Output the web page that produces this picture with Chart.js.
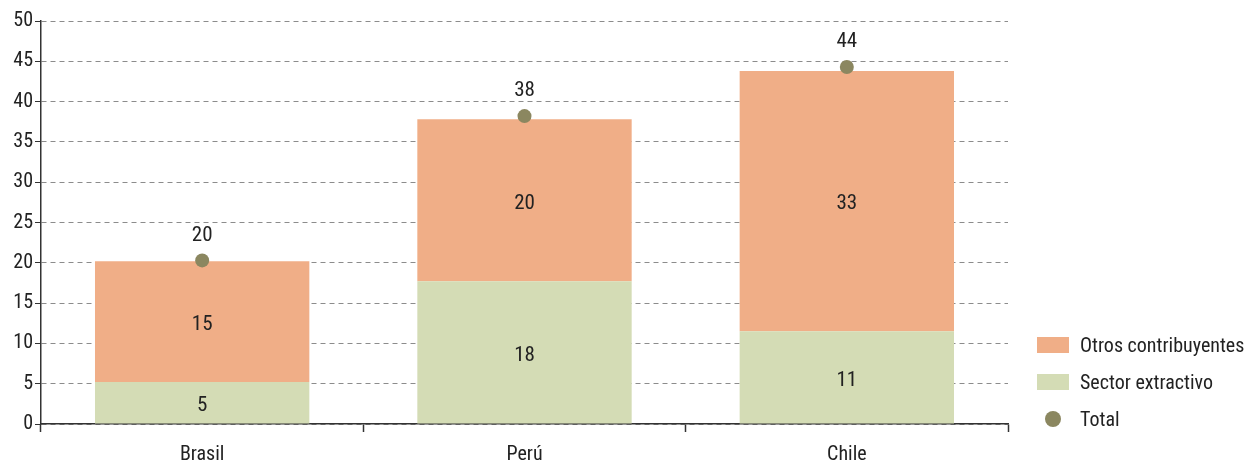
<!DOCTYPE html>
<html>
<head>
<meta charset="utf-8">
<script src="https://cdn.jsdelivr.net/npm/chart.js@4"></script>
<style>
  html, body { margin: 0; padding: 0; background: #fff; }
  #wrap { position: relative; width: 1248px; height: 463px; }
  #legend { position: absolute; left: 1037px; top: 326px; font-family: "Roboto Condensed", "Liberation Sans Narrow", "DejaVu Sans Condensed", "Roboto", sans-serif; font-size: 20px; color: #222; }
  .item { display: flex; align-items: center; height: 37px; }
  .sw { width: 32px; height: 16px; margin-right: 11px; }
  .dot { width: 16px; height: 16px; border-radius: 50%; margin: 0 19px 0 8px; }
</style>
</head>
<body>
<div id="wrap">
  <canvas id="chart" width="1248" height="463"></canvas>
  <div id="legend">
    <div class="item"><div class="sw" style="background:#F0AE87"></div>Otros contribuyentes</div>
    <div class="item"><div class="sw" style="background:#D4DCB5"></div>Sector extractivo</div>
    <div class="item"><div class="dot" style="background:#8B8760"></div>Total</div>
  </div>
</div>
<script>
const countries = ['Brasil', 'Perú', 'Chile'];
const sectorExtractivo = [5.2, 17.7, 11.5];
const otrosContribuyentes = [15.0, 20.1, 32.3];
const total = [20.3, 38.2, 44.3];
const sectorLabels = ['5', '18', '11'];
const otrosLabels = ['15', '20', '33'];
const totalLabels = ['20', '38', '44'];

const FONT = '"Roboto Condensed", "Liberation Sans Narrow", "DejaVu Sans Condensed", "Roboto", sans-serif';

// etiquetas de valores dentro de barras y sobre los puntos
const valueLabels = {
    id: 'valueLabels',
    afterDatasetsDraw(chart) {
        const ctx = chart.ctx;
        ctx.save();
        ctx.font = '21px ' + FONT;
        ctx.fillStyle = '#222';
        ctx.textAlign = 'center';
        ctx.textBaseline = 'middle';
        const texts = [sectorLabels, otrosLabels, totalLabels];
        chart.data.datasets.forEach((ds, i) => {
            chart.getDatasetMeta(i).data.forEach((el, j) => {
                if (i < 2) {
                    const mid = (el.y + el.base) / 2;
                    ctx.fillText(texts[i][j], el.x, mid + 3);
                } else {
                    ctx.fillText(texts[i][j], el.x, el.y - 25);
                }
            });
        });
        ctx.restore();
    }
};

const config = {
    type: 'bar',
    data: {
        labels: countries,
        datasets: [{
            label: 'Sector extractivo',
            data: sectorExtractivo,
            backgroundColor: '#D4DCB5',
            stack: 'a',
            barPercentage: 0.665,
            categoryPercentage: 1,
            order: 2,
        }, {
            label: 'Otros contribuyentes',
            data: otrosContribuyentes,
            backgroundColor: '#F0AE87',
            stack: 'a',
            barPercentage: 0.665,
            categoryPercentage: 1,
            order: 2,
        }, {
            type: 'line',
            label: 'Total',
            data: total,
            stack: 'b',
            showLine: false,
            pointRadius: 7,
            pointBackgroundColor: '#8B8760',
            pointBorderWidth: 0,
            order: 1,
        }],
    },
    options: {
        responsive: false,
        animation: false,
        layout: { padding: { top: 21, right: 240, left: 0, bottom: 0 } },
        plugins: { legend: { display: false }, tooltip: { enabled: false } },
        scales: {
            x: {
                stacked: true,
                grid: { offset: true, drawOnChartArea: false, color: '#333', tickLength: 8, tickWidth: 1.5 },
                border: { color: '#333', width: 1.5 },
                ticks: { color: '#222', font: { family: FONT, size: 20 }, padding: 11 },
                afterFit(s) { s.height = 39; },
            },
            y: {
                stacked: true,
                min: 0,
                max: 50,
                ticks: { stepSize: 5, color: '#222', font: { family: FONT, size: 20 }, padding: 2 },
                grid: {
                    color: '#8c8c8c',
                    tickColor: '#333',
                    tickLength: 6,
                    lineWidth: 1,
                },
                border: { color: '#333', width: 1.5, dash: [5, 4] },
                afterFit(s) { s.width = 41; },
            },
        },
    },
    plugins: [valueLabels],
};

const ctx = document.getElementById('chart').getContext('2d');
const myChart = new Chart(ctx, config);
</script>
</body>
</html>
